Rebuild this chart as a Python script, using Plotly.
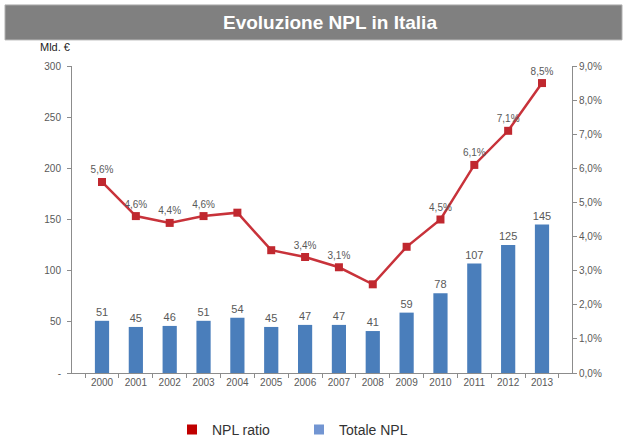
import plotly.graph_objects as go

years = [str(y) for y in range(2000, 2014)]
totale_npl = [51, 45, 46, 51, 54, 45, 47, 47, 41, 59, 78, 107, 125, 145]
npl_ratio = [5.6, 4.6, 4.4, 4.6, 4.7, 3.6, 3.4, 3.1, 2.6, 3.7, 4.5, 6.1, 7.1, 8.5]
ratio_labelled = [True, True, True, True, False, False, True, True, False, False, True, True, True, True]
left_ticks = [0, 50, 100, 150, 200, 250, 300]
left_ticktext = ["-", "50", "100", "150", "200", "250", "300"]

BLUE = "#4A7EBB"
RED = "#C8323A"
GREY_TXT = "#595959"
AXIS = "#8C8C8C"

ratio_text = [
    (f"{v:.1f}".replace(".", ",") + "%") if show else ""
    for v, show in zip(npl_ratio, ratio_labelled)
]

fig = go.Figure()

fig.add_trace(go.Bar(
    x=years, y=totale_npl, name="Totale NPL",
    marker=dict(color=BLUE, line=dict(width=0)),
    width=0.42,
    text=[str(v) for v in totale_npl], textposition="outside",
    constraintext="none",
    textfont=dict(family="Liberation Sans", size=11, color=GREY_TXT),
    cliponaxis=False, showlegend=False, yaxis="y",
))

fig.add_trace(go.Scatter(
    x=years, y=[v / 100 for v in npl_ratio], name="NPL ratio",
    mode="lines+markers+text",
    line=dict(color=RED, width=2.5),
    marker=dict(symbol="square", size=8, color="#C0282F"),
    text=ratio_text, textposition="top center",
    textfont=dict(family="Liberation Sans", size=10, color=GREY_TXT),
    cliponaxis=False, showlegend=False, yaxis="y2",
))

# legend entries drawn as plain squares
fig.add_trace(go.Scatter(
    x=[None], y=[None], mode="markers", name="NPL ratio",
    marker=dict(symbol="square", size=10, color="#C00000"), yaxis="y2",
))
fig.add_trace(go.Scatter(
    x=[None], y=[None], mode="markers", name="Totale NPL",
    marker=dict(symbol="square", size=10, color="#7295D2"), yaxis="y2",
))

fig.update_layout(
    width=627, height=439,
    margin=dict(l=72, r=55, t=66, b=66, autoexpand=False),
    paper_bgcolor="white", plot_bgcolor="white",
    separators=",.",
    font=dict(family="Liberation Sans", color=GREY_TXT),
    xaxis=dict(
        type="category", tickson="boundaries", ticks="outside", ticklen=4,
        tickcolor=AXIS, showline=True, linecolor=AXIS, linewidth=1,
        showgrid=False, tickfont=dict(size=10, color=GREY_TXT),
    ),
    yaxis=dict(
        range=[0, 300], tickvals=left_ticks, ticktext=left_ticktext,
        ticks="outside", ticklen=4, tickcolor=AXIS, showline=True,
        linecolor=AXIS, linewidth=1, showgrid=False, zeroline=False,
        tickfont=dict(size=10, color=GREY_TXT), ticklabelstandoff=4,
    ),
    yaxis2=dict(
        range=[0, 0.09], dtick=0.01, tickformat=".1%", overlaying="y",
        side="right", ticks="outside", ticklen=4, tickcolor=AXIS,
        showline=True, linecolor=AXIS, linewidth=1, showgrid=False,
        zeroline=False, tickfont=dict(size=10, color=GREY_TXT),
    ),
    legend=dict(
        orientation="h", x=0.20, xanchor="left", y=-0.185, yanchor="middle",
        font=dict(family="Liberation Sans", size=14, color="#333333"),
        itemwidth=30, tracegroupgap=0, entrywidth=82,
    ),
    shapes=[dict(
        type="rect", xref="paper", yref="paper",
        x0=-0.134, x1=1.10, y0=1.085, y1=1.199,
        fillcolor="#808080", line=dict(color="#B0B0B0", width=1), layer="below",
    )],
    annotations=[
        dict(text="<b>Evoluzione NPL in Italia</b>", xref="paper", yref="paper",
             x=0.516, y=1.142, xanchor="center", yanchor="middle", showarrow=False,
             font=dict(family="Liberation Sans Narrow, Liberation Sans", size=19, color="white")),
        dict(text="Mld. €", xref="paper", yref="paper", x=0.0, y=1.035,
             xanchor="right", yanchor="bottom", showarrow=False,
             font=dict(family="Liberation Sans", size=11, color="#222222")),
    ],
)

fig.write_html("out.html")
